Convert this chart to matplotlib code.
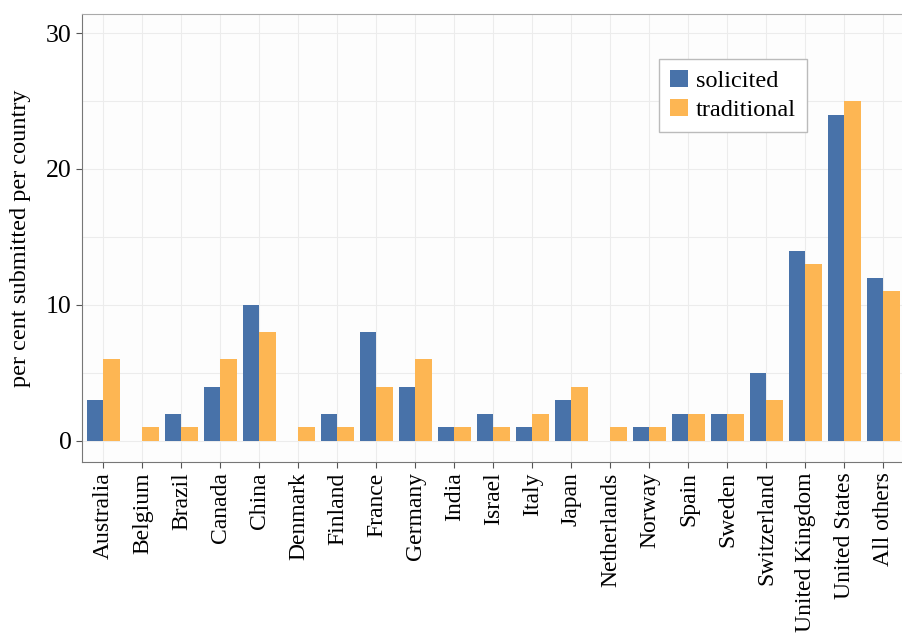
import numpy as np
import matplotlib.pyplot as plt

countries = ['Australia', 'Belgium', 'Brazil', 'Canada', 'China', 'Denmark',
             'Finland', 'France', 'Germany', 'India', 'Israel', 'Italy', 'Japan',
             'Netherlands', 'Norway', 'Spain', 'Sweden', 'Switzerland',
             'United Kingdom', 'United States', 'All others']
solicited = [3, 0, 2, 4, 10, 0, 2, 8, 4, 1, 2, 1, 3, 0, 1, 2, 2, 5, 14, 24, 12]
traditional = [6, 1, 1, 6, 8, 1, 1, 4, 6, 1, 1, 2, 4, 1, 1, 2, 2, 3, 13, 25, 11]

plt.rcParams['font.family'] = ['Liberation Serif', 'DejaVu Serif']

fig = plt.figure(figsize=(9.03, 6.33), dpi=100)
ax = fig.add_axes([82 / 903, 1 - 462 / 633, (903 - 82) / 903, (462 - 14) / 633])
ax.set_facecolor('#fdfdfd')

x = np.arange(len(countries))
w = 0.43
ax.bar(x - w / 2, solicited, w, color='#4872a9', label='solicited', zorder=3)
ax.bar(x + w / 2, traditional, w, color='#fdb653', label='traditional', zorder=3)

ax.set_xlim(-0.55, len(countries) - 1 + 0.5)
ax.set_ylim(-1.55, 31.4)
ax.set_yticks([0, 10, 20, 30])
ax.set_yticks([5, 15, 25], minor=True)
ax.set_xticks(x)
ax.set_xticklabels(countries, rotation=90, fontsize=17)
ax.tick_params(axis='y', labelsize=18.5, length=4, color='#555555')
ax.tick_params(axis='y', which='minor', length=0)
ax.tick_params(axis='x', length=4, color='#555555')
ax.grid(True, which='both', color='#ececec', linewidth=0.8, zorder=0)

for s in ax.spines.values():
    s.set_color('#aaaaaa')
for s in ['left', 'bottom']:
    ax.spines[s].set_color('#777777')

ax.set_ylabel('per cent submitted per country', fontsize=17.5)
ax.yaxis.set_label_coords(-0.062, 0.5)

leg = ax.legend(loc='upper left', bbox_to_anchor=(0.703, 0.9), fontsize=17.5,
                fancybox=False, framealpha=1, edgecolor='#bbbbbb',
                handlelength=0.75, handleheight=0.7, handletextpad=0.3,
                borderpad=0.45, labelspacing=0.3, borderaxespad=0)

fig.savefig('out.png', dpi=100)
